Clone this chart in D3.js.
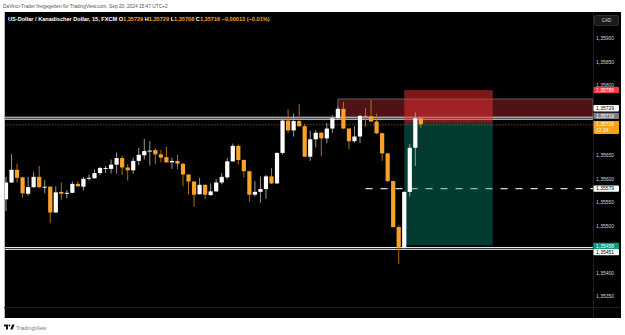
<!DOCTYPE html>
<html>
<head>
<meta charset="utf-8">
<script src="https://cdn.jsdelivr.net/npm/d3@7"></script>
<style>
  body { margin: 0; background: #ffffff; }
  svg { display: block; font-family: "Liberation Sans", Arial, sans-serif; }
</style>
</head>
<body>
<div id="chart"></div>
<script>
// Size of the page and the dark chart panel
var w = 625;
var h = 335;
var panel = { left: 4, right: 621, top: 12, bottom: 318 };
var plotRight = 593;
var plotBottom = 307;

// 15 minute candles, Sep 19 21:00 to Sep 20 15:45 (UTC+2 shown as is)
var times = d3.utcMinute.every(15).range(Date.UTC(2024, 8, 19, 21, 0), Date.UTC(2024, 8, 20, 16, 0));

var opens = [1.35556, 1.35592, 1.35619, 1.35603, 1.35568, 1.35582, 1.35604, 1.35581, 1.35583, 1.35528,
  1.35572, 1.35568, 1.35570, 1.35589, 1.35583, 1.35600, 1.35601, 1.35612, 1.35622, 1.35621,
  1.35630, 1.35644, 1.35624, 1.35618, 1.35638, 1.35650, 1.35658, 1.35661, 1.35652, 1.35646,
  1.35635, 1.35638, 1.35632, 1.35609, 1.35594, 1.35567, 1.35587, 1.35565, 1.35573, 1.35592,
  1.35603, 1.35637, 1.35670, 1.35640, 1.35616, 1.35566, 1.35572, 1.35578, 1.35605, 1.35590,
  1.35655, 1.35724, 1.35703, 1.35723, 1.35712, 1.35647, 1.35684, 1.35698, 1.35686, 1.35707,
  1.35729, 1.35749, 1.35707, 1.35680, 1.35690, 1.35734, 1.35733, 1.35722, 1.35697, 1.35654,
  1.35595, 1.35497, 1.35453, 1.35572, 1.35666, 1.35729];

var highs = [1.35604, 1.35652, 1.35632, 1.35604, 1.35604, 1.35615, 1.35627, 1.35597, 1.35584, 1.35584,
  1.35592, 1.35576, 1.35594, 1.35594, 1.35604, 1.35609, 1.35620, 1.35625, 1.35627, 1.35641,
  1.35656, 1.35649, 1.35631, 1.35645, 1.35666, 1.35685, 1.35680, 1.35665, 1.35661, 1.35668,
  1.35645, 1.35651, 1.35633, 1.35610, 1.35595, 1.35602, 1.35588, 1.35590, 1.35599, 1.35612,
  1.35644, 1.35675, 1.35673, 1.35641, 1.35617, 1.35595, 1.35605, 1.35608, 1.35623, 1.35656,
  1.35725, 1.35748, 1.35739, 1.35759, 1.35717, 1.35702, 1.35704, 1.35700, 1.35719, 1.35736,
  1.35754, 1.35764, 1.35708, 1.35712, 1.35736, 1.35750, 1.35768, 1.35739, 1.35698, 1.35655,
  1.35596, 1.35501, 1.35573, 1.35674, 1.35741, 1.35729];

var lows = [1.35531, 1.35591, 1.35592, 1.35560, 1.35564, 1.35580, 1.35580, 1.35569, 1.35505, 1.35527,
  1.35555, 1.35558, 1.35569, 1.35582, 1.35575, 1.35596, 1.35600, 1.35608, 1.35612, 1.35611,
  1.35611, 1.35608, 1.35596, 1.35611, 1.35629, 1.35641, 1.35628, 1.35631, 1.35635, 1.35634,
  1.35621, 1.35620, 1.35584, 1.35566, 1.35540, 1.35566, 1.35556, 1.35564, 1.35572, 1.35588,
  1.35599, 1.35636, 1.35630, 1.35603, 1.35551, 1.35562, 1.35549, 1.35557, 1.35589, 1.35589,
  1.35651, 1.35697, 1.35690, 1.35711, 1.35646, 1.35638, 1.35667, 1.35648, 1.35676, 1.35697,
  1.35728, 1.35706, 1.35663, 1.35676, 1.35676, 1.35711, 1.35721, 1.35695, 1.35638, 1.35593,
  1.35496, 1.35418, 1.35451, 1.35562, 1.35627, 1.35708];

var closes = [1.35592, 1.35619, 1.35602, 1.35569, 1.35582, 1.35604, 1.35582, 1.35583, 1.35528, 1.35571,
  1.35568, 1.35570, 1.35589, 1.35584, 1.35600, 1.35602, 1.35612, 1.35623, 1.35623, 1.35630,
  1.35644, 1.35624, 1.35618, 1.35638, 1.35651, 1.35659, 1.35660, 1.35652, 1.35645, 1.35635,
  1.35638, 1.35632, 1.35609, 1.35594, 1.35566, 1.35587, 1.35566, 1.35573, 1.35592, 1.35604,
  1.35637, 1.35670, 1.35640, 1.35616, 1.35566, 1.35572, 1.35578, 1.35605, 1.35590, 1.35655,
  1.35724, 1.35703, 1.35723, 1.35712, 1.35647, 1.35684, 1.35698, 1.35686, 1.35707, 1.35729,
  1.35749, 1.35707, 1.35680, 1.35690, 1.35734, 1.35733, 1.35722, 1.35697, 1.35654, 1.35595,
  1.35497, 1.35453, 1.35572, 1.35666, 1.35729, 1.35716];

// Price axis ticks
var priceTicks = [1.3535, 1.3540, 1.3545, 1.3550, 1.3555, 1.3560, 1.3565, 1.3570, 1.3575, 1.3580, 1.3585, 1.3590, 1.3595];

// Drawings: horizontal levels, zone, short position
var upperLevel = 1.35729;
var lowerLevel = 1.35451;
var midLevel = 1.35579;
var zoneTop = 1.35770;
var zoneBottom = 1.35731;
var entryPrice = 1.35719;
var stopPrice = 1.35789;
var targetPrice = 1.35458;
var zoneStart = Date.UTC(2024, 8, 20, 12, 0);
var midStart = Date.UTC(2024, 8, 20, 13, 15);
var posStart = Date.UTC(2024, 8, 20, 15, 0);
var posEnd = Date.UTC(2024, 8, 20, 19, 0);

// Colours
var bullColor = "#ffffff";
var bearColor = "#f8a12b";
var textColor = "#d1d4dc";

var locale = d3.formatLocale({ decimal: ",", thousands: ".", grouping: [3], currency: ["", ""], minus: "\u2212" });
var fmt = locale.format(".5f");

// Scales
var xScale = d3.scaleUtc()
    .domain([Date.UTC(2024, 8, 19, 21, 0), Date.UTC(2024, 8, 20, 21, 0)])
    .range([6, 537]);

var yScale = d3.scaleLinear()
    .domain([1.3535, 1.3590])
    .range([296, 38]);

var svg = d3.select("#chart")
    .append("svg")
    .attr("width", w)
    .attr("height", h);

// Attribution line on top
svg.append("text")
    .attr("x", 3)
    .attr("y", 7.5)
    .attr("font-size", 4.8)
    .attr("fill", "#555")
    .text("DaVinci-Trader freigegeben f\u00fcr TradingView.com, Sep 20, 2024 15:47 UTC+2");

// Dark panel
svg.append("rect")
    .attr("x", panel.left)
    .attr("y", panel.top)
    .attr("width", panel.right - panel.left)
    .attr("height", panel.bottom - panel.top)
    .attr("fill", "#000");

svg.append("line")
    .attr("x1", panel.left + 0.5).attr("x2", panel.left + 0.5)
    .attr("y1", panel.top).attr("y2", panel.bottom)
    .attr("stroke", "#b8b8b8");

// Axis separators
svg.append("line")
    .attr("x1", plotRight + 0.5).attr("x2", plotRight + 0.5)
    .attr("y1", panel.top).attr("y2", panel.bottom)
    .attr("stroke", "#1e1e1e");
svg.append("line")
    .attr("x1", panel.left).attr("x2", panel.right)
    .attr("y1", plotBottom + 0.5).attr("y2", plotBottom + 0.5)
    .attr("stroke", "#1e1e1e");

var defs = svg.append("defs");
defs.append("clipPath").attr("id", "plotClip")
    .append("rect")
    .attr("x", panel.left + 1).attr("y", panel.top)
    .attr("width", plotRight - panel.left - 1).attr("height", plotBottom - panel.top);
defs.append("clipPath").attr("id", "timeClip")
    .append("rect")
    .attr("x", panel.left + 1).attr("y", plotBottom)
    .attr("width", plotRight - panel.left - 1).attr("height", panel.bottom - plotBottom);

var plot = svg.append("g").attr("clip-path", "url(#plotClip)");

// Resistance zone (dark red box)
plot.append("rect")
    .attr("x", xScale(zoneStart))
    .attr("y", yScale(zoneTop))
    .attr("width", plotRight - xScale(zoneStart))
    .attr("height", yScale(zoneBottom) - yScale(zoneTop))
    .attr("fill", "rgba(242,54,69,0.33)")
    .attr("stroke", "#6e6e6e")
    .attr("stroke-width", 0.8);

// Horizontal double lines
[upperLevel, lowerLevel].forEach(function (p) {
    plot.append("line")
        .attr("x1", panel.left).attr("x2", plotRight)
        .attr("y1", yScale(p)).attr("y2", yScale(p))
        .attr("stroke", "#e6e6e6").attr("stroke-width", 3);
    plot.append("line")
        .attr("x1", panel.left).attr("x2", plotRight)
        .attr("y1", yScale(p)).attr("y2", yScale(p))
        .attr("stroke", "#000").attr("stroke-width", 0.9);
});

// Dashed white level
plot.append("line")
    .attr("x1", xScale(midStart)).attr("x2", plotRight)
    .attr("y1", yScale(midLevel)).attr("y2", yScale(midLevel))
    .attr("stroke", "#d8d8d8").attr("stroke-width", 1.3)
    .attr("stroke-dasharray", "7,8");

// Current price dotted line
plot.append("line")
    .attr("x1", panel.left).attr("x2", plotRight)
    .attr("y1", yScale(closes[closes.length - 1]) + 0.5).attr("y2", yScale(closes[closes.length - 1]) + 0.5)
    .attr("stroke", "#9a5c12").attr("stroke-width", 0.8)
    .attr("stroke-dasharray", "1.5,1.5");

// Short position box (semi transparent, under the candles)
plot.append("rect")
    .attr("x", xScale(posStart))
    .attr("y", yScale(stopPrice))
    .attr("width", xScale(posEnd) - xScale(posStart))
    .attr("height", yScale(entryPrice) - yScale(stopPrice))
    .attr("fill", "rgba(232,50,48,0.52)");
plot.append("rect")
    .attr("x", xScale(posStart))
    .attr("y", yScale(entryPrice))
    .attr("width", xScale(posEnd) - xScale(posStart))
    .attr("height", yScale(targetPrice) - yScale(entryPrice))
    .attr("fill", "rgba(8,153,129,0.38)");

// Candles
var candles = d3.range(times.length).map(function (i) {
    return { t: times[i], o: opens[i], h: highs[i], l: lows[i], c: closes[i] };
});

var candle = plot.selectAll("g.candle")
    .data(candles)
    .enter()
    .append("g")
    .attr("class", "candle");

candle.append("line")
    .attr("x1", function (d) { return xScale(d.t); })
    .attr("x2", function (d) { return xScale(d.t); })
    .attr("y1", function (d) { return yScale(d.h); })
    .attr("y2", function (d) { return yScale(d.l); })
    .attr("stroke", function (d) { return d.c >= d.o ? "#a8a8a8" : "#c27a16"; })
    .attr("stroke-width", 0.9);

candle.append("rect")
    .attr("x", function (d) { return xScale(d.t) - 2.1; })
    .attr("y", function (d) { return yScale(Math.max(d.o, d.c)); })
    .attr("width", 4.2)
    .attr("height", function (d) { return Math.max(1, Math.abs(yScale(d.o) - yScale(d.c))); })
    .attr("fill", function (d) { return d.c >= d.o ? bullColor : bearColor; });

// Header
var last = closes.length - 1;
var change = closes[last] - closes[last - 1];
var header = svg.append("text")
    .attr("x", 8)
    .attr("y", 20.5)
    .attr("font-size", 5.6)
    .attr("font-weight", "bold");
var parts = [
    ["US-Dollar / Kanadischer Dollar, 15, FXCM O", "#fff"], [fmt(opens[last]), bearColor],
    [" H", "#fff"], [fmt(highs[last]), bearColor],
    [" L", "#fff"], [fmt(lows[last]), bearColor],
    [" C", "#fff"], [fmt(closes[last]), bearColor],
    [" " + fmt(change) + " (" + locale.format(".2f")(change / closes[last - 1] * 100) + "%)", bearColor]
];
parts.forEach(function (p) {
    header.append("tspan").attr("fill", p[1]).text(p[0]);
});

// Time axis
var xAxis = d3.axisBottom(xScale)
    .tickValues(d3.utcHour.every(3).range(Date.UTC(2024, 8, 19, 21), Date.UTC(2024, 8, 21, 0)))
    .tickSize(0)
    .tickPadding(3.5)
    .tickFormat(function (d) { return d.getUTCHours() === 0 ? "20" : d3.utcFormat("%H:%M")(d); });

svg.append("g")
    .attr("class", "x-axis")
    .attr("clip-path", "url(#timeClip)")
    .attr("transform", "translate(0," + plotBottom + ")")
    .call(xAxis)
    .call(function (g) { g.select(".domain").remove(); })
    .selectAll("text")
    .attr("fill", textColor)
    .attr("font-size", 5)
    .attr("font-family", "Liberation Sans, Arial, sans-serif");

// Price axis marker labels
var markers = [
    { v: stopPrice, bg: "#f23645", fg: "#fff", y: yScale(stopPrice) },
    { v: upperLevel, bg: "#ffffff", fg: "#000", y: yScale(upperLevel) - 10 },
    { v: entryPrice, bg: "#7d7f87", fg: "#fff", y: yScale(entryPrice) - 7 },
    { v: closes[last], bg: "#f7a21b", fg: "#fff", y: yScale(closes[last]), sub: "12:24" },
    { v: midLevel, bg: "#ffffff", fg: "#000", y: yScale(midLevel) },
    { v: targetPrice, bg: "#089981", fg: "#fff", y: yScale(targetPrice) + 0.5 },
    { v: lowerLevel, bg: "#ffffff", fg: "#000", y: yScale(lowerLevel) + 3.5 }
];

// Price axis, hide ticks covered by marker labels or the currency button
var visibleTicks = priceTicks.filter(function (p) {
    var y = yScale(p);
    if (y < 27) return false;
    return markers.every(function (m) {
        var top = m.y - 3.2, bottom = m.y + (m.sub ? 9.5 : 3.2);
        return (y + 1.5) < top || (y - 1.5) > bottom;
    });
});

var yAxis = d3.axisRight(yScale)
    .tickValues(visibleTicks)
    .tickSize(0)
    .tickPadding(3)
    .tickFormat(fmt);

svg.append("g")
    .attr("class", "y-axis")
    .attr("transform", "translate(" + plotRight + ",0)")
    .call(yAxis)
    .call(function (g) { g.select(".domain").remove(); })
    .selectAll("text")
    .attr("fill", textColor)
    .attr("font-size", 5)
    .attr("font-family", "Liberation Sans, Arial, sans-serif");

var mk = svg.selectAll("g.marker")
    .data(markers)
    .enter()
    .append("g")
    .attr("class", "marker");

mk.append("rect")
    .attr("x", plotRight + 0.5)
    .attr("y", function (d) { return d.y - 3.2; })
    .attr("width", 25.5)
    .attr("height", function (d) { return d.sub ? 12.8 : 6.4; })
    .attr("rx", 0.8)
    .attr("fill", function (d) { return d.bg; });

mk.append("text")
    .attr("x", plotRight + 3)
    .attr("y", function (d) { return d.y + 1.8; })
    .attr("font-size", 5)
    .attr("fill", function (d) { return d.fg; })
    .text(function (d) { return fmt(d.v); });

mk.filter(function (d) { return d.sub; })
    .append("text")
    .attr("x", plotRight + 3)
    .attr("y", function (d) { return d.y + 8; })
    .attr("font-size", 5)
    .attr("fill", function (d) { return d.fg; })
    .text(function (d) { return d.sub; });

// Currency button
svg.append("rect")
    .attr("x", 594.5).attr("y", 15.5)
    .attr("width", 24).attr("height", 10)
    .attr("rx", 1.5)
    .attr("fill", "#1a1a1a")
    .attr("stroke", "#3c3c3c")
    .attr("stroke-width", 0.7);
svg.append("text")
    .attr("x", 606.5).attr("y", 22.2)
    .attr("text-anchor", "middle")
    .attr("font-size", 4.6)
    .attr("fill", "#d1d4dc")
    .text("CAD");

// TradingView logo at the bottom
var logo = svg.append("g").attr("transform", "translate(4,324.5)").attr("fill", "#131722");
logo.append("path").attr("d", "M0,0 H4 V5 H2 V2 H0 Z");
logo.append("circle").attr("cx", 5.4).attr("cy", 1).attr("r", 1);
logo.append("path").attr("d", "M6.2,5 L8.2,0 H10.6 L8.6,5 Z");
svg.append("text")
    .attr("x", 16)
    .attr("y", 329.5)
    .attr("font-size", 5.5)
    .attr("fill", "#777")
    .text("TradingView");
</script>
</body>
</html>
